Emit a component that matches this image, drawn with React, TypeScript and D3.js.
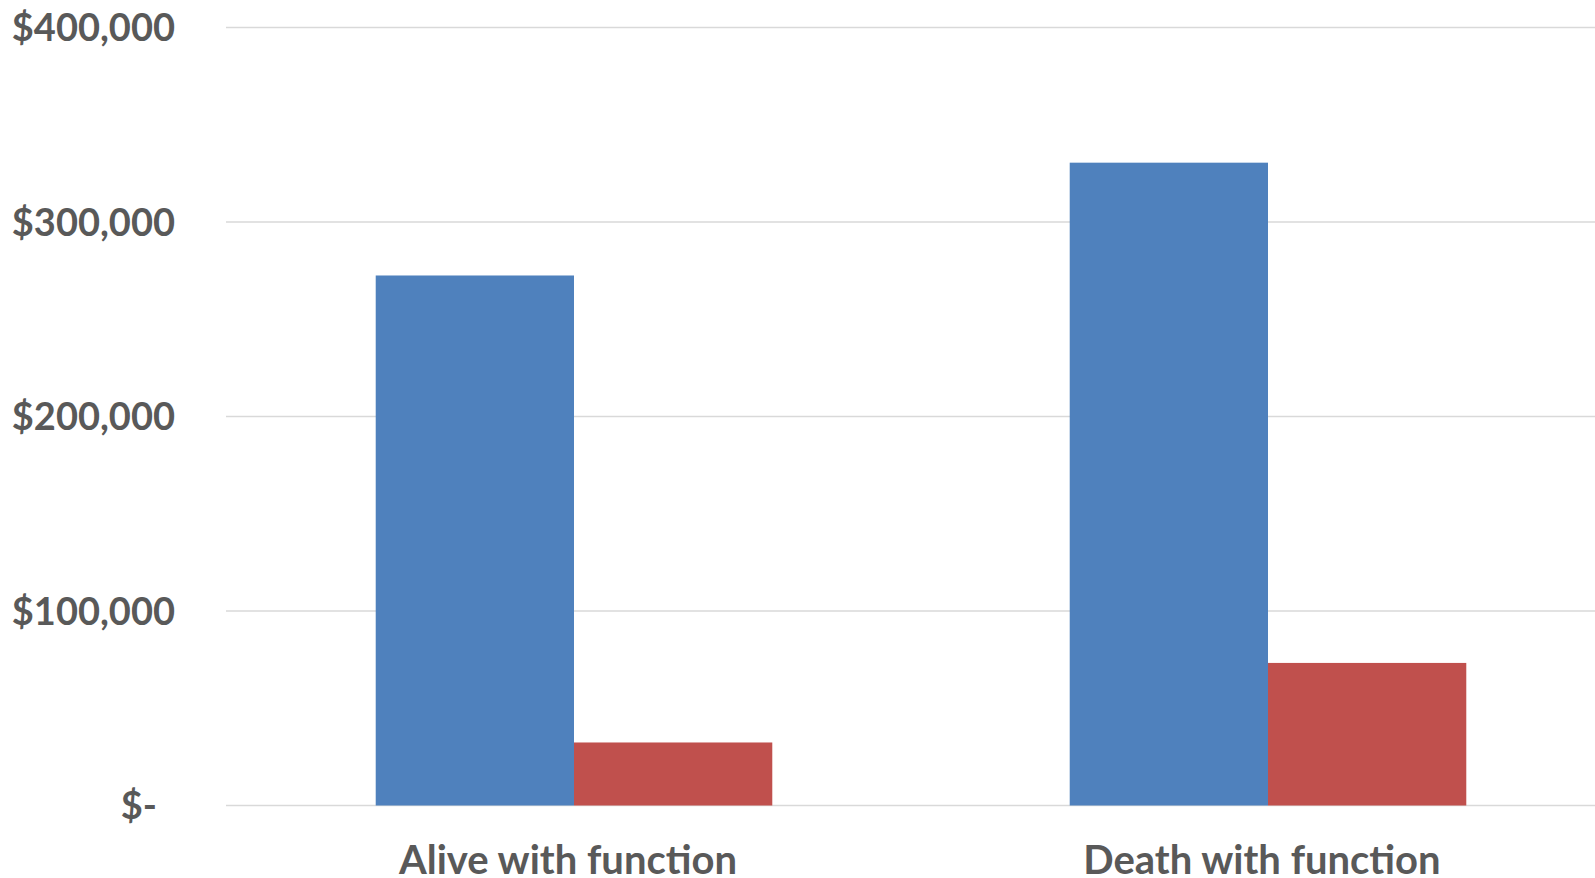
import React from "react";
import * as d3 from "d3";

const categories = ["Alive with function", "Death with function"];
const seriesNames = ["Series A", "Series B"];
const seriesA = [272500, 330500];
const seriesB = [32400, 73300];
const yTicks = [0, 100000, 200000, 300000, 400000];

const W = 1595;
const H = 878;
const colors = ["#4F81BD", "#C0504D"];
const textColor = "#595959";
const FONT = "Lato, 'Open Sans', sans-serif";
const FS_Y = 38;
const FS_X = 40;

function fmt(v: number) {
  if (v === 0) return "$-";
  return "$" + d3.format(",")(v);
}

export default function App() {
  const y = d3.scaleLinear().domain([0, 400000]).range([805.5, 27.5]);
  const x0 = d3.scaleBand<string>().domain(categories).range([227, 1615]).padding(0);
  const x1 = d3
    .scaleBand<string>()
    .domain(seriesNames)
    .range([0, x0.bandwidth()])
    .paddingInner(0)
    .paddingOuter(0.75);
  const series = [seriesA, seriesB];

  return (
    <svg
      width={W}
      height={H}
      style={{ position: "absolute", left: 0, top: 0, background: "#fff" }}
    >
      <rect x={0} y={0} width={W} height={H} fill="#fff" />
      {yTicks.map((t) => (
        <line
          key={"g" + t}
          x1={226}
          x2={W}
          y1={y(t)}
          y2={y(t)}
          stroke="#D9D9D9"
          strokeWidth={1.5}
        />
      ))}
      {categories.map((c, ci) =>
        seriesNames.map((s, si) => {
          const v = series[si][ci];
          const bx = (x0(c) as number) + (x1(s) as number);
          return (
            <rect
              key={c + s}
              x={bx}
              y={y(v)}
              width={x1.bandwidth()}
              height={y(0) - y(v)}
              fill={colors[si]}
            />
          );
        })
      )}
      {yTicks.map((t) => (
        <text
          key={"t" + t}
          x={t === 0 ? 157 : 175}
          y={y(t) + FS_Y * 0.36}
          textAnchor="end"
          fontFamily={FONT}
          fontWeight={700}
          fontSize={FS_Y}
          fill={textColor}
        >
          {fmt(t)}
        </text>
      ))}
      {categories.map((c) => (
        <text
          key={"x" + c}
          x={(x0(c) as number) + x0.bandwidth() / 2 - 6}
          y={874}
          textAnchor="middle"
          fontFamily={FONT}
          fontWeight={700}
          fontSize={FS_X}
          fill={textColor}
        >
          {c}
        </text>
      ))}
    </svg>
  );
}
